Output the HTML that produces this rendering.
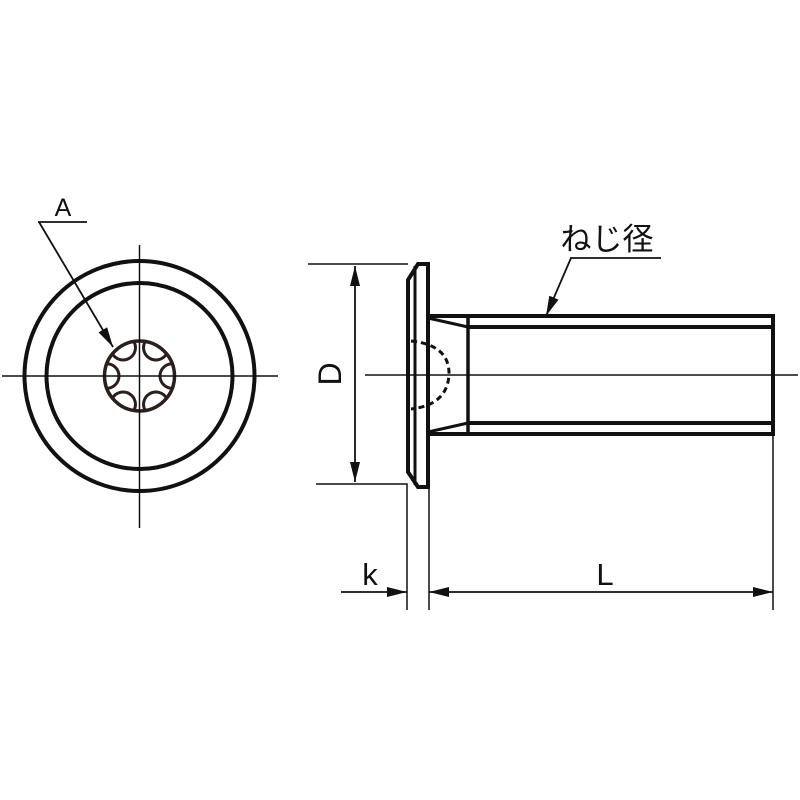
<!DOCTYPE html>
<html><head><meta charset="utf-8"><style>html,body{margin:0;padding:0;background:#fff}svg{display:block}</style></head>
<body>
<svg id="s" width="800" height="800" viewBox="0 0 800 800" xmlns="http://www.w3.org/2000/svg">
<defs>
<marker id="arB" viewBox="0 0 20 10" refX="20" refY="5" markerWidth="20" markerHeight="10" markerUnits="userSpaceOnUse" orient="auto-start-reverse"><path d="M0,0 L20,5 L0,10 z" fill="#111"/></marker>
</defs>
<g fill="none" stroke="#111">
<circle cx="139.5" cy="376" r="115" stroke-width="4"/>
<circle cx="139.5" cy="376" r="93" stroke-width="4"/>
<circle cx="139.5" cy="376" r="35" stroke="#2a1f1c" stroke-width="3.5"/>
<g id="lobes" stroke="#2a1f1c" stroke-width="3"></g>
<line x1="2" y1="376" x2="278" y2="376" stroke-width="1.5"/>
<line x1="139.5" y1="245" x2="139.5" y2="528" stroke-width="1.5"/>
<line x1="38" y1="222" x2="87" y2="222" stroke-width="1.8"/>
<line x1="39" y1="222" x2="113" y2="347" stroke-width="1.8" marker-end="url(#arB)"/>
<path d="M418,264 L428,264 L428,487 L418,487 L408,472 L408,280 Z" stroke-width="4"/>
<line x1="415" y1="266" x2="415" y2="485" stroke-width="3"/>
<path d="M428,316 L773,316 L773,434 L428,434" stroke-width="4"/>
<line x1="468" y1="327" x2="771" y2="327" stroke-width="4"/>
<line x1="468" y1="423" x2="771" y2="423" stroke-width="4"/>
<line x1="468" y1="316" x2="468" y2="434" stroke-width="3.5"/>
<line x1="428" y1="318" x2="468" y2="327" stroke-width="3"/>
<line x1="428" y1="432" x2="468" y2="423" stroke-width="3"/>
<path d="M411,341 Q450,345 449,375 Q447,405 411,409" stroke-width="3" stroke-dasharray="6,4"/>
<line x1="365" y1="375" x2="798" y2="375" stroke-width="1.5"/>
<line x1="308" y1="264" x2="408" y2="264" stroke-width="1.5"/>
<polyline points="316,484 407,484 407,610" stroke-width="1.5"/>
<line x1="355" y1="266" x2="355" y2="482" stroke-width="1.8" marker-start="url(#arB)" marker-end="url(#arB)"/>
<line x1="429" y1="487" x2="429" y2="610" stroke-width="1.5"/>
<line x1="773" y1="434" x2="773" y2="610" stroke-width="1.5"/>
<line x1="341" y1="592" x2="407" y2="592" stroke-width="1.8" marker-end="url(#arB)"/>
<line x1="429" y1="592" x2="773" y2="592" stroke-width="1.8" marker-start="url(#arB)" marker-end="url(#arB)"/>
<line x1="570" y1="258" x2="661" y2="258" stroke-width="1.8"/>
<line x1="571" y1="258" x2="546" y2="316" stroke-width="1.8" marker-end="url(#arB)"/>
</g>
<g font-family="Liberation Sans, sans-serif" fill="#111">
<text x="63" y="216" font-size="25" text-anchor="middle">A</text>
<text x="370" y="585" font-size="31" text-anchor="middle">k</text>
<text x="605" y="585" font-size="31" text-anchor="middle">L</text>
<text transform="translate(341,374) rotate(-90)" font-size="32" text-anchor="middle">D</text>
<text x="607" y="250" font-size="31" text-anchor="middle" font-family="Liberation Sans, Noto Sans CJK JP, sans-serif">ねじ径</text>
</g>
</svg>
<script>
var g=document.getElementById('lobes'),cx=139.5,cy=376,R=35,d='';
for(var i=0;i<6;i++){var a=i*Math.PI/3,da=0.36;
var x1=cx+R*Math.cos(a-da),y1=cy+R*Math.sin(a-da),x2=cx+R*Math.cos(a+da),y2=cy+R*Math.sin(a+da);
d+='M'+x1.toFixed(1)+','+y1.toFixed(1)+' A12,12 0 0 0 '+x2.toFixed(1)+','+y2.toFixed(1)+' ';}
var p=document.createElementNS('http://www.w3.org/2000/svg','path');p.setAttribute('d',d);g.appendChild(p);
</script>
</body></html>
